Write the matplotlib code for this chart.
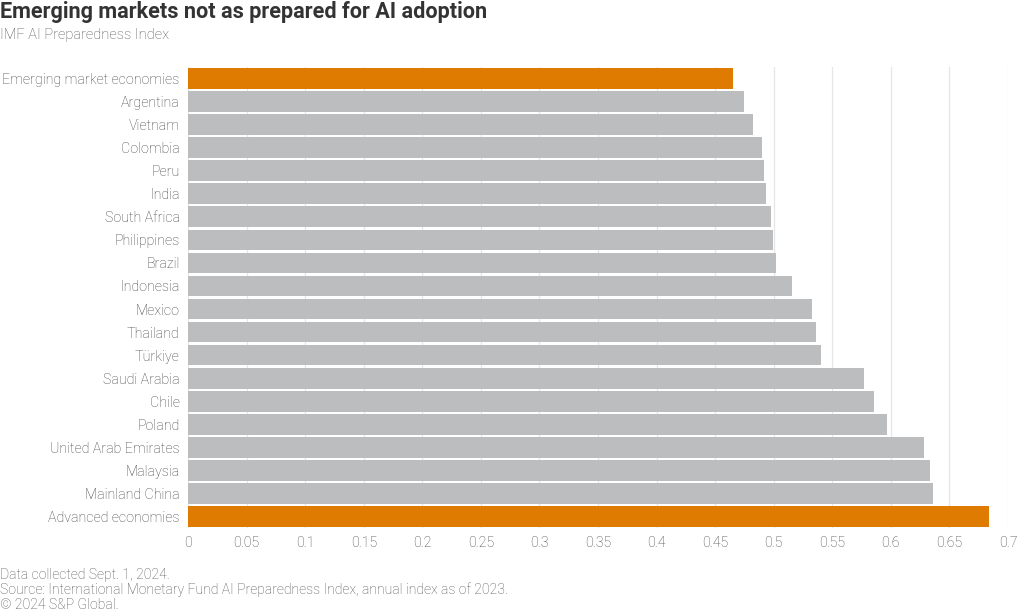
import matplotlib
matplotlib.use("Agg")
import matplotlib.pyplot as plt

categories = ["Emerging market economies", "Argentina", "Vietnam", "Colombia", "Peru", "India",
              "South Africa", "Philippines", "Brazil", "Indonesia", "Mexico", "Thailand",
              "Türkiye", "Saudi Arabia", "Chile", "Poland", "United Arab Emirates",
              "Malaysia", "Mainland China", "Advanced economies"]
values = [0.465, 0.475, 0.482, 0.490, 0.492, 0.493, 0.498, 0.499, 0.502, 0.516,
          0.533, 0.536, 0.540, 0.577, 0.586, 0.597, 0.628, 0.633, 0.636, 0.684]
highlight = ["Emerging market economies", "Advanced economies"]
xticks = [0, 0.05, 0.1, 0.15, 0.2, 0.25, 0.3, 0.35, 0.4, 0.45, 0.5, 0.55, 0.6, 0.65, 0.7]
xticklabels = ["0", "0.05", "0.1", "0.15", "0.2", "0.25", "0.3", "0.35", "0.4", "0.45",
               "0.5", "0.55", "0.6", "0.65", "0.7"]

plt.rcParams['font.family'] = ['Roboto', 'DejaVu Sans']

ORANGE = "#DE7B00"
GRAY = "#BCBDBF"
TXT = "#444444"

fig = plt.figure(figsize=(10.2, 6.14), dpi=100)
ax = fig.add_axes([188/1020, 1-528/614, (1008-188)/1020, (528-67)/614])

ypos = list(range(len(categories)))
colors = [ORANGE if c in highlight else GRAY for c in categories]
ax.barh(ypos, values, height=0.9, color=colors, zorder=3)
ax.set_ylim(len(categories)-0.5, -0.5)
ax.set_xlim(0, 0.7)
ax.set_yticks(ypos)
ax.set_yticklabels(categories, fontsize=10.3, color=TXT, fontweight='light')
ax.set_xticks(xticks)
ax.set_xticklabels(xticklabels, fontsize=10.2, color=TXT, fontweight='light')
ax.tick_params(axis='y', length=0, pad=6)
ax.tick_params(axis='x', length=0, pad=6)
ax.grid(axis='x', color="#E6E6E6", linewidth=0.9, zorder=0)
for s in ax.spines.values():
    s.set_visible(False)

fig.text(0.0, 1-12/614, "Emerging markets not as prepared for AI adoption",
         fontsize=15.6, fontweight='bold', color="#333333", va='center', ha='left')
fig.text(0.0, 1-35/614, "IMF AI Preparedness Index", fontsize=10.5, color="#555555",
         va='center', ha='left', fontweight='light')
foot = ["Data collected Sept. 1, 2024.",
        "Source: International Monetary Fund AI Preparedness Index, annual index as of 2023.",
        "© 2024 S&P Global."]
for i, t in enumerate(foot):
    fig.text(0.0, 1-(575+15*i)/614, t, fontsize=10.1, color="#555555", va='center',
             ha='left', fontweight='light')

fig.savefig("out.png", dpi=100)
